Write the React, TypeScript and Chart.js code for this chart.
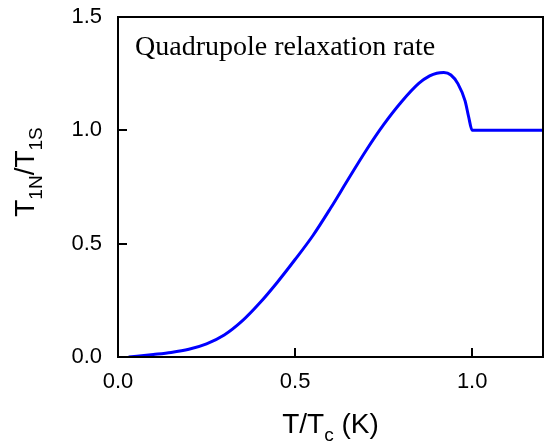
import React, { useEffect, useRef } from "react";
import { Chart, registerables } from "chart.js";

Chart.register(...registerables);

const xValues = [0.03, 0.1, 0.15, 0.2, 0.25, 0.3, 0.35, 0.4, 0.45, 0.5, 0.55, 0.6, 0.65, 0.7, 0.75, 0.8, 0.85, 0.88, 0.9, 0.92, 0.94, 0.96, 0.98, 0.99, 1.0, 1.1, 1.2];
const yValues = [0, 0.011, 0.02, 0.034, 0.058, 0.097, 0.158, 0.238, 0.33, 0.43, 0.535, 0.656, 0.784, 0.91, 1.025, 1.125, 1.208, 1.24, 1.252, 1.255, 1.244, 1.205, 1.13, 1.06, 1.0, 1.0, 1.0];
const xTicks = [0, 0.5, 1.0];
const yTicks = [0, 0.5, 1.0, 1.5];
const plotLabel = "Quadrupole relaxation rate";

const SANS = "'Liberation Sans', Arial, sans-serif";
const SERIF = "'Liberation Serif', 'Times New Roman', serif";

type Part = { t: string; sub?: boolean };
const xTitle: Part[] = [{ t: "T/T" }, { t: "c", sub: true }, { t: " (K)" }];
const yTitle: Part[] = [{ t: "T" }, { t: "1N", sub: true }, { t: "/T" }, { t: "1S", sub: true }];

function drawParts(ctx: CanvasRenderingContext2D, parts: Part[], cx: number, baseY: number, size: number) {
  const sub = size * 0.68;
  let w = 0;
  for (const p of parts) {
    ctx.font = `${p.sub ? sub : size}px ${SANS}`;
    w += ctx.measureText(p.t).width;
  }
  let x = cx - w / 2;
  ctx.textAlign = "left";
  ctx.textBaseline = "alphabetic";
  for (const p of parts) {
    ctx.font = `${p.sub ? sub : size}px ${SANS}`;
    ctx.fillText(p.t, x, baseY + (p.sub ? size * 0.28 : 0));
    x += ctx.measureText(p.t).width;
  }
}

const framePlugin = {
  id: "frame",
  afterDraw(chart: any) {
    const { ctx, chartArea } = chart;
    const { left, right, top, bottom } = chartArea;
    const xs = chart.scales.x;
    const ys = chart.scales.y;
    ctx.save();
    ctx.strokeStyle = "#000";
    ctx.lineWidth = 2;
    ctx.strokeRect(left, top, right - left, bottom - top);
    const tl = 9;
    ctx.beginPath();
    for (const v of xTicks) {
      const px = Math.round(xs.getPixelForValue(v));
      ctx.moveTo(px, bottom);
      ctx.lineTo(px, bottom - tl);
    }
    for (const v of yTicks) {
      const py = Math.round(ys.getPixelForValue(v));
      ctx.moveTo(left, py);
      ctx.lineTo(left + tl, py);
    }
    ctx.stroke();
    ctx.fillStyle = "#000";
    ctx.font = `28px ${SERIF}`;
    ctx.textAlign = "left";
    ctx.textBaseline = "alphabetic";
    ctx.fillText(plotLabel, left + 17, top + 38);
    drawParts(ctx, xTitle, (left + right) / 2, 433, 28);
    ctx.save();
    ctx.translate(34, 172);
    ctx.rotate(-Math.PI / 2);
    drawParts(ctx, yTitle, 0, 0, 28);
    ctx.restore();
    ctx.restore();
  },
};

export default function App() {
  const ref = useRef<HTMLCanvasElement>(null);
  useEffect(() => {
    if (!ref.current) return;
    const chart = new Chart(ref.current, {
      type: "line",
      data: {
        datasets: [
          {
            data: xValues.map((x, i) => ({ x, y: yValues[i] })),
            borderColor: "#0000ff",
            borderWidth: 3,
            pointRadius: 0,
            cubicInterpolationMode: "monotone",
            fill: false,
          },
        ],
      },
      options: {
        animation: false,
        responsive: true,
        maintainAspectRatio: false,
        layout: { padding: { left: 0, top: 17, right: 3, bottom: 0 } },
        plugins: { legend: { display: false }, tooltip: { enabled: false }, title: { display: false } },
        scales: {
          x: {
            type: "linear",
            min: 0,
            max: 1.2,
            afterBuildTicks: (s: any) => {
              s.ticks = xTicks.map((v) => ({ value: v }));
            },
            afterFit: (s: any) => {
              s.height = 84;
              s.paddingLeft = 0;
              s.paddingRight = 0;
            },
            grid: { display: false, drawTicks: false },
            border: { display: false },
            ticks: {
              padding: 12,
              maxRotation: 0,
              color: "#000",
              font: { family: SANS, size: 22 },
              callback: (v: any) => Number(v).toFixed(1),
            },
          },
          y: {
            type: "linear",
            min: 0,
            max: 1.5,
            afterBuildTicks: (s: any) => {
              s.ticks = yTicks.map((v) => ({ value: v }));
            },
            afterFit: (s: any) => {
              s.width = 118;
              s.paddingTop = 0;
              s.paddingBottom = 0;
            },
            grid: { display: false, drawTicks: false },
            border: { display: false },
            ticks: {
              padding: 16,
              color: "#000",
              font: { family: SANS, size: 22 },
              callback: (v: any) => Number(v).toFixed(1),
            },
          },
        },
      },
      plugins: [framePlugin],
    });
    return () => chart.destroy();
  }, []);
  return (
    <div style={{ position: "absolute", left: 0, top: 0, width: 546, height: 441 }}>
      <canvas ref={ref} />
    </div>
  );
}
